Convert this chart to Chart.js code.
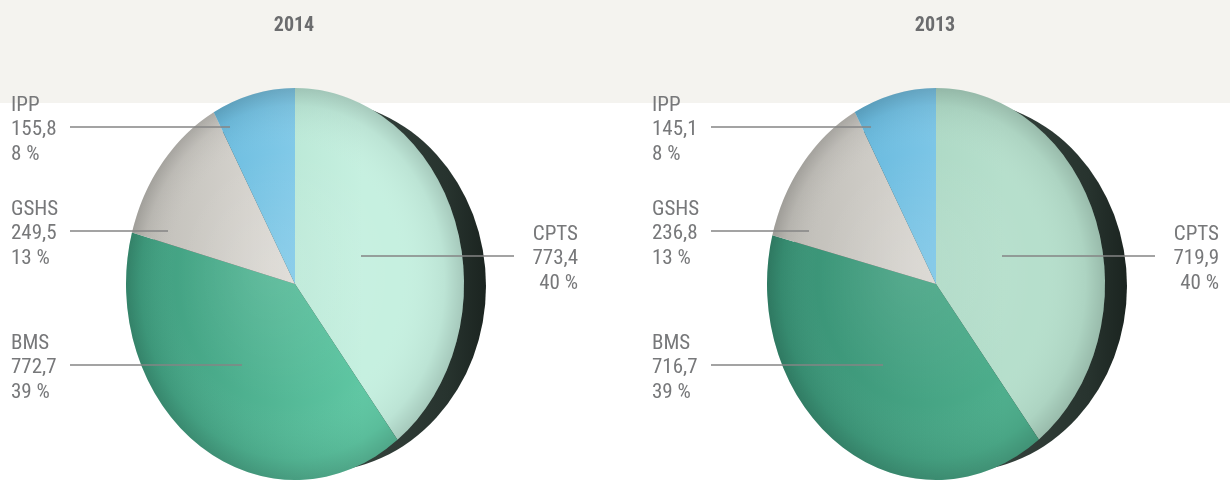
<!DOCTYPE html>
<html>
<head>
<meta charset="utf-8">
<script src="https://cdn.jsdelivr.net/npm/chart.js@4/dist/chart.umd.min.js"></script>
<style>
  html, body { margin:0; padding:0; width:1230px; height:482px; overflow:hidden; background:#ffffff; }
  #band { position:absolute; left:0; top:0; width:1230px; height:103px; background:#f4f3ef; }
  canvas { position:absolute; top:0; }
  #c2014 { left:0px; }
  #c2013 { left:641px; }
</style>
</head>
<body>
<div id="band"></div>
<canvas id="c2014" width="615" height="482"></canvas>
<canvas id="c2013" width="615" height="482"></canvas>
<script>
// ---- data ----
const categories = ['CPTS', 'BMS', 'GSHS', 'IPP'];
const values2014 = [773.4, 772.7, 249.5, 155.8];
const values2013 = [719.9, 716.7, 236.8, 145.1];
const percent2014 = ['40 %', '39 %', '13 %', '8 %'];
const percent2013 = ['40 %', '39 %', '13 %', '8 %'];
const years = ['2014', '2013'];

// ---- styling ----
const colors2014 = [['#a3d8c3', '#c6f0e0'], ['#3d9a7c', '#5fc7a3'], ['#bdbbb5', '#ebe8e3'], ['#55afd6', '#93d4ef']];
const colors2013 = [['#9ccdb8', '#b6dfcc'], ['#378f73', '#4dae8c'], ['#bbb9b3', '#e6e3de'], ['#52acd4', '#8dd0ee']];

// label annotation layout (canvas-local px)
const labelLayout = {
  CPTS: { align: 'right', x: 578, y: 264, lineFrom: 514, lineTo: 361 },
  BMS:  { align: 'left',  x: 11,  y: 373, lineFrom: 70,  lineTo: 242 },
  GSHS: { align: 'left',  x: 11,  y: 239, lineFrom: 70,  lineTo: 168 },
  IPP:  { align: 'left',  x: 11,  y: 135, lineFrom: 70,  lineTo: 230 }
};
const FONT_FAMILY = '"Liberation Sans Narrow", "Roboto Condensed", "DejaVu Sans Condensed", "Liberation Sans", sans-serif';
const TEXT_COLOR = '#77787a';

const fmt = v => v.toFixed(1).replace('.', ',');

const pieDecor = {
  id: 'pieDecor',
  beforeDatasetsDraw(chart, args, opts) {
    const ctx = chart.ctx;
    const arc = chart.getDatasetMeta(0).data[0];
    const cx = arc.x, cy = arc.y, R = arc.outerRadius;
    const rx = R * opts.scaleX;
    // dark rim (3D edge)
    ctx.save();
    const g = ctx.createLinearGradient(cx, 0, cx + rx + opts.rimDx, 0);
    g.addColorStop(0, '#3e4c46');
    g.addColorStop(0.8, '#27332e');
    g.addColorStop(1, '#1b2420');
    ctx.fillStyle = g;
    ctx.beginPath();
    ctx.ellipse(cx + opts.rimDx, cy + opts.rimDy, rx, R * opts.rimSy, 0, 0, Math.PI * 2);
    ctx.fill();
    ctx.restore();
    // squash the round pie into an ellipse
    ctx.save();
    ctx.translate(cx, cy);
    ctx.scale(opts.scaleX, 1);
    ctx.translate(-cx, -cy);
  },
  afterDatasetsDraw(chart, args, opts) {
    const ctx = chart.ctx;
    const arc = chart.getDatasetMeta(0).data[0];
    const cx = arc.x, cy = arc.y, R = arc.outerRadius;
    // spherical shading overlay (still in squashed space)
    const rg = ctx.createRadialGradient(cx - R * 0.15, cy - R * 0.1, 0, cx, cy, R);
    rg.addColorStop(0, 'rgba(255,255,255,0.10)');
    rg.addColorStop(0.65, 'rgba(255,255,255,0)');
    rg.addColorStop(0.9, 'rgba(0,0,0,0.05)');
    rg.addColorStop(1, 'rgba(0,0,0,0.16)');
    ctx.fillStyle = rg;
    ctx.beginPath();
    ctx.arc(cx, cy, R, 0, Math.PI * 2);
    ctx.fill();
    ctx.restore();
  },
  afterDraw(chart, args, opts) {
    const ctx = chart.ctx;
    ctx.save();
    // title
    ctx.fillStyle = '#6b6c6e';
    ctx.font = 'bold 20px ' + FONT_FAMILY;
    ctx.textAlign = 'center';
    ctx.textBaseline = 'alphabetic';
    ctx.fillText(opts.title, opts.titleX, 31);
    // labels
    const labels = chart.data.labels;
    const vals = chart.data.datasets[0].data;
    ctx.font = '21px ' + FONT_FAMILY;
    labels.forEach((lab, i) => {
      const L = labelLayout[lab];
      ctx.textAlign = L.align;
      ctx.fillStyle = TEXT_COLOR;
      const rows = [lab, fmt(vals[i]), opts.percents[i]];
      rows.forEach((t, k) => ctx.fillText(t, L.x, L.y + (k - 1) * 24.5));
      ctx.strokeStyle = '#858585';
      ctx.lineWidth = 1.5;
      ctx.beginPath();
      const ly = L.y - 8;
      ctx.moveTo(L.lineFrom, ly);
      ctx.lineTo(L.lineTo, ly);
      ctx.stroke();
    });
    ctx.restore();
  }
};

function makePie(id, values, colorPairs, title, percents) {
  const ctx = document.getElementById(id).getContext('2d');
  const R = 196, cx = 295, cy = 284;
  return new Chart(ctx, {
    type: 'pie',
    data: {
      labels: categories,
      datasets: [{
        data: values,
        borderWidth: 0,
        backgroundColor: (c) => {
          const chart = c.chart;
          const area = chart.chartArea;
          const pair = colorPairs[c.dataIndex];
          if (!area) return pair[1];
          const g = chart.ctx.createLinearGradient(area.left, 0, area.right, 0);
          g.addColorStop(0, pair[0]);
          g.addColorStop(0.7, pair[1]);
          g.addColorStop(1, pair[1]);
          return g;
        }
      }]
    },
    options: {
      responsive: false,
      animation: false,
      events: [],
      rotation: 0,
      layout: { padding: { left: cx - R, right: 615 - cx - R, top: cy - R, bottom: 482 - cy - R } },
      plugins: {
        legend: { display: false },
        tooltip: { enabled: false },
        pieDecor: { scaleX: 169 / 196, rimDx: 22, rimDy: 2, rimSy: 186 / 196, title: title, titleX: 294, percents: percents }
      }
    },
    plugins: [pieDecor]
  });
}

makePie('c2014', values2014, colors2014, years[0], percent2014);
makePie('c2013', values2013, colors2013, years[1], percent2013);
</script>
</body>
</html>
